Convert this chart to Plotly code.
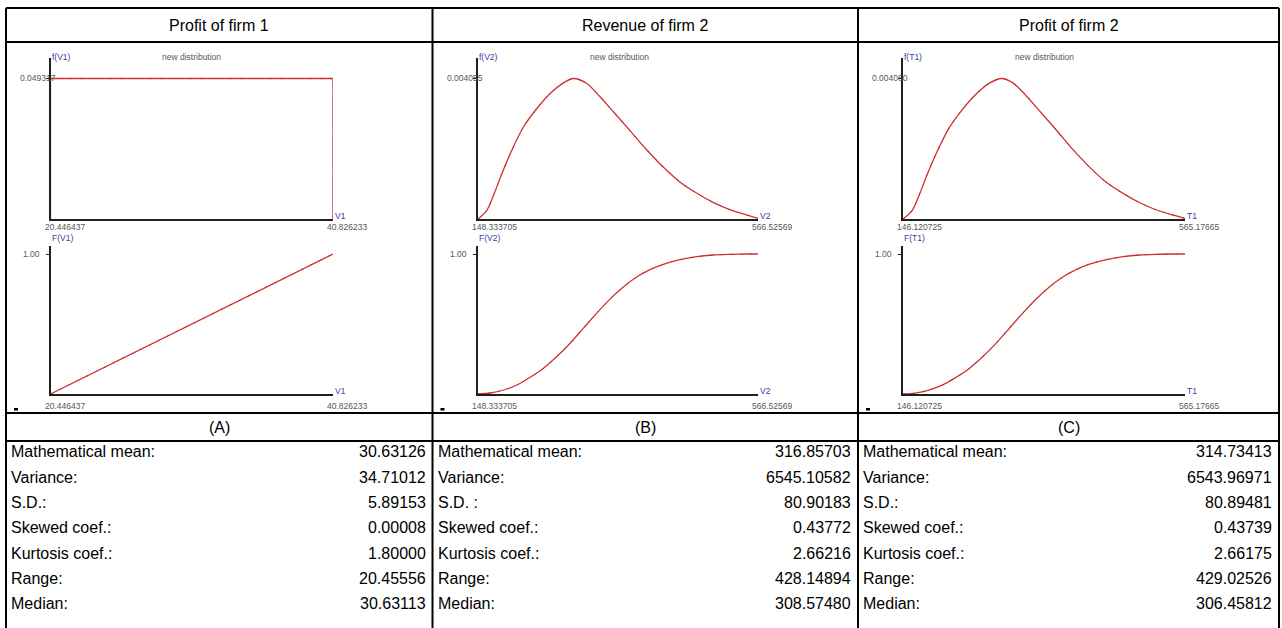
import plotly.graph_objects as go

W, H = 1282, 628

# ---------------- data ----------------
titles = ["Profit of firm 1", "Revenue of firm 2", "Profit of firm 2"]
panel_labels = ["(A)", "(B)", "(C)"]

stat_names_A = ["Mathematical mean:", "Variance:", "S.D.:", "Skewed coef.:", "Kurtosis coef.:", "Range:", "Median:"]
stat_names_B = ["Mathematical mean:", "Variance:", "S.D. :", "Skewed coef.:", "Kurtosis coef.:", "Range:", "Median:"]
stat_names_C = ["Mathematical mean:", "Variance:", "S.D.:", "Skewed coef.:", "Kurtosis coef.:", "Range:", "Median:"]
stats_A = ["30.63126", "34.71012", "5.89153", "0.00008", "1.80000", "20.45556", "30.63113"]
stats_B = ["316.85703", "6545.10582", "80.90183", "0.43772", "2.66216", "428.14894", "308.57480"]
stats_C = ["314.73413", "6543.96971", "80.89481", "0.43739", "2.66175", "429.02526", "306.45812"]

var_names = ["V1", "V2", "T1"]
x_min = [20.446437, 148.333705, 146.120725]
x_max = [40.826233, 566.52569, 565.17665]
x_min_lbl = ["20.446437", "148.333705", "146.120725"]
x_max_lbl = ["40.826233", "566.52569", "565.17665"]
pdf_peak = [0.049317, 0.004055, 0.004060]
pdf_peak_lbl = ["0.049317", "0.004055", "0.004060"]

# (A) uniform distribution
pdfA_x = [20.446437, 20.446437, 40.826233, 40.826233]
pdfA_y = [0.0, 0.049317, 0.049317, 0.0]
cdfA_x = [20.446437, 25.55, 30.63, 35.72, 40.826233]
cdfA_y = [0.0, 0.25, 0.50, 0.75, 1.0]

# (B) revenue of firm 2
pdfB_x = [148.33, 161.74, 171.68, 184.10, 198.99, 216.38, 236.25, 256.11, 275.98, 290.88, 310.74,
          330.61, 350.48, 375.31, 400.15, 424.98, 449.81, 474.65, 499.48, 524.32, 549.15, 566.53]
pdfB_y = [0.0, 0.000259, 0.000692, 0.001316, 0.001989, 0.002662, 0.003190, 0.003623, 0.003930, 0.004055,
          0.003911, 0.003527, 0.003094, 0.002550, 0.002000, 0.001500, 0.001070, 0.000750, 0.000480,
          0.000270, 0.000120, 0.000020]
cdfB_x = [148.33, 166.69, 186.55, 206.46, 226.32, 246.19, 266.05, 285.92, 305.78, 325.65, 345.51,
          365.37, 385.24, 405.10, 424.97, 449.81, 474.65, 499.49, 524.30, 549.14, 566.53]
cdfB_y = [0.0, 0.0072, 0.0286, 0.0644, 0.1193, 0.1838, 0.2673, 0.3628, 0.4702, 0.5776, 0.6778,
          0.7637, 0.8353, 0.8878, 0.9260, 0.9594, 0.9809, 0.9928, 0.9976, 1.0, 1.0]

# (C) profit of firm 2
pdfC_x = [146.12, 159.57, 169.50, 181.95, 196.87, 214.30, 234.21, 254.11, 274.02, 292.50, 308.88,
          328.79, 348.69, 373.59, 398.43, 423.33, 448.22, 473.11, 498.00, 522.85, 547.75, 565.18]
pdfC_y = [0.0, 0.000240, 0.000660, 0.001280, 0.001950, 0.002620, 0.003160, 0.003600, 0.003920, 0.004060,
          0.003940, 0.003570, 0.003130, 0.002580, 0.002010, 0.001500, 0.001060, 0.000740, 0.000470,
          0.000260, 0.000110, 0.000015]
cdfC_x = [146.12, 164.52, 184.42, 204.37, 224.27, 244.18, 264.08, 283.99, 303.90, 323.80, 343.71,
          363.61, 383.52, 403.42, 423.33, 448.22, 473.11, 498.00, 522.85, 547.75, 565.18]
cdfC_y = [0.0, 0.0070, 0.0280, 0.0630, 0.1170, 0.1810, 0.2640, 0.3600, 0.4680, 0.5760, 0.6770,
          0.7640, 0.8360, 0.8890, 0.9270, 0.9600, 0.9810, 0.9930, 0.9980, 1.0, 1.0]

pdf_data = [(pdfA_x, pdfA_y, "linear"), (pdfB_x, pdfB_y, "spline"), (pdfC_x, pdfC_y, "spline")]
cdf_data = [(cdfA_x, cdfA_y, "linear"), (cdfB_x, cdfB_y, "spline"), (cdfC_x, cdfC_y, "spline")]
stat_names = [stat_names_A, stat_names_B, stat_names_C]
stat_vals = [stats_A, stats_B, stats_C]

# ---------------- layout geometry (pixels) ----------------
col_left = [6, 432.5, 858]
col_right = [432.5, 858, 1279]
axis_x = [50.5, 478, 903]
axis_end = [333, 758, 1185]
pdf_base, pdf_top, pdf_peak_px = 219, 58, 78.5
cdf_base, cdf_top, cdf_one_px = 394, 246, 254
top_line, head_line, mid_line1, mid_line2 = 8, 42, 413, 441
stat_y0, stat_dy = 452, 25.3


def px(x):
    return x / W


def py(y):
    return 1 - y / H


RED = "#d43030"
FONT = "Liberation Sans, Arial, sans-serif"
GRAY = "#585858"
BLUE = "#3c3ca0"

fig = go.Figure()
layout = {}
annotations = []
shapes = []

for i in range(3):
    for j, (data, base, top, topval_px, ytick) in enumerate([
        (pdf_data[i], pdf_base, pdf_top, pdf_peak_px, pdf_peak[i]),
        (cdf_data[i], cdf_base, cdf_top, cdf_one_px, 1.0),
    ]):
        k = 2 * i + j + 1
        xs, ys, shp = data
        ytop = ytick * (base - top) / (base - topval_px)
        fig.add_trace(go.Scatter(
            x=xs, y=ys, mode="lines",
            line=dict(color=RED, width=1.3, shape=shp, smoothing=0.9),
            xaxis=f"x{k}", yaxis=f"y{k}", showlegend=False, hoverinfo="skip"))
        fig.add_trace(go.Scatter(
            x=xs, y=ys, mode="lines",
            line=dict(color="rgba(90,20,20,0.5)", width=0.8, shape=shp, smoothing=0.9, dash="2px,8px"),
            xaxis=f"x{k}", yaxis=f"y{k}", showlegend=False, hoverinfo="skip"))
        layout[f"xaxis{k}"] = dict(
            domain=[px(axis_x[i]), px(axis_end[i])], range=[x_min[i], x_max[i]],
            anchor=f"y{k}", showline=True, linecolor="#202020", linewidth=1.6,
            showgrid=False, zeroline=False, showticklabels=False, ticks="", fixedrange=True)
        layout[f"yaxis{k}"] = dict(
            domain=[py(base), py(top)], range=[0, ytop],
            anchor=f"x{k}", showline=True, linecolor="#202020", linewidth=1.6,
            showgrid=False, zeroline=False, showticklabels=False,
            ticks="outside", tickvals=[ytick], ticklen=3, tickwidth=1, tickcolor="#202020",
            fixedrange=True)

    a, e, L = axis_x[i], axis_end[i], col_left[i]
    small = dict(size=8.5, family=FONT, color=GRAY)
    blue = dict(size=8.5, family=FONT, color=BLUE)

    def ann(text, x, y, font, xanchor="left"):
        annotations.append(dict(text=text, x=px(x), y=py(y), xref="paper", yref="paper",
                                xanchor=xanchor, yanchor="middle", showarrow=False, font=font))

    v = var_names[i]
    ann(f"f({v})", a - 1, 57, blue)
    ann("new distribution", a + 141, 57, small, "center")
    ann(pdf_peak_lbl[i], a + 7, 78, small, "right")
    ann(x_min_lbl[i], a - 8, 227, small)
    ann(x_max_lbl[i], e - 8, 227, small)
    ann(v, e, 216, blue)
    ann(f"F({v})", a - 1, 238, blue)
    ann("1.00", a - 9, 254, small, "right")
    ann(v, e, 391, blue)
    ann(x_min_lbl[i], a - 8, 406, small)
    ann(x_max_lbl[i], e - 8, 406, small)
    shapes.append(dict(type="rect", xref="paper", yref="paper",
                       x0=px(L + 8), x1=px(L + 12), y0=py(408), y1=py(410.5),
                       line=dict(width=0), fillcolor="black"))

    cx = (col_left[i] + col_right[i]) / 2
    big = dict(size=16, family=FONT, color="black")
    ann(titles[i], cx, 25, big, "center")
    ann(panel_labels[i], cx, (mid_line1 + mid_line2) / 2, big, "center")
    for r in range(7):
        yy = stat_y0 + r * stat_dy
        ann(stat_names[i][r], col_left[i] + 3, yy, big, "left")
        ann(stat_vals[i][r], col_right[i] - 5, yy, big, "right")

# table borders
def hline(y, x0, x1):
    shapes.append(dict(type="line", xref="paper", yref="paper", x0=px(x0), x1=px(x1),
                       y0=py(y), y1=py(y), line=dict(color="black", width=2)))


def vline(x, y0, y1):
    shapes.append(dict(type="line", xref="paper", yref="paper", x0=px(x), x1=px(x),
                       y0=py(y0), y1=py(y1), line=dict(color="black", width=2)))


for yl in [top_line, head_line, mid_line1, mid_line2]:
    hline(yl, col_left[0], col_right[2])
for xl in [col_left[0], col_left[1], col_left[2], col_right[2]]:
    vline(xl, top_line, H + 2)

layout.update(dict(
    width=W, height=H, margin=dict(l=0, r=0, t=0, b=0),
    paper_bgcolor="white", plot_bgcolor="white",
    annotations=annotations, shapes=shapes, showlegend=False,
))
fig.update_layout(**layout)

fig.write_html("out.html", config={"displayModeBar": False, "staticPlot": True},
               post_script="document.body.style.margin='0';document.body.style.overflow='hidden';")
